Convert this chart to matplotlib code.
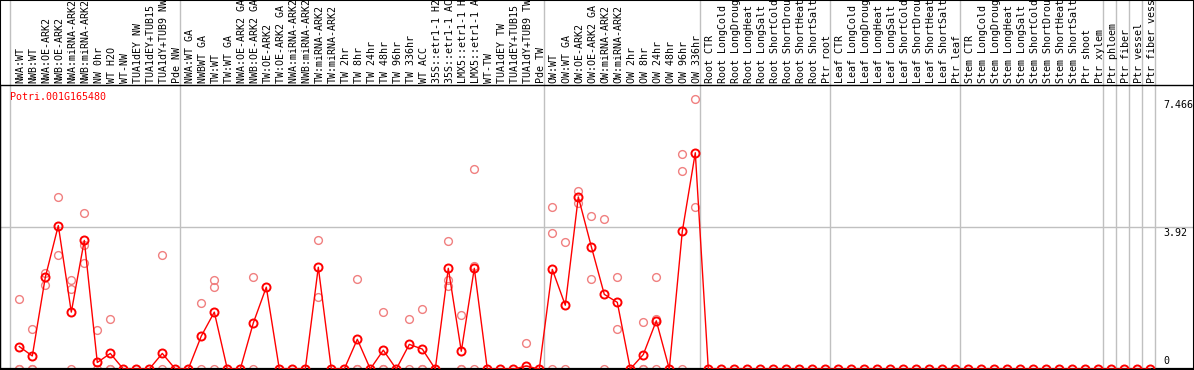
import matplotlib
matplotlib.use("Agg")
import matplotlib.pyplot as plt
from matplotlib.transforms import blended_transform_factory
from matplotlib.patches import Rectangle

# подписи образцов
labels = [
    "NWA:WT", "NWB:WT", "NWA:OE-ARK2", "NWB:OE-ARK2", "NWA:miRNA-ARK2",
    "NWB:miRNA-ARK2", "NW 0hr", "WT H2O", "WT-NW", "TUA1dEY NW",
    "TUA1dEY+TUB15 NW", "TUA1dY+TUB9 NW", "Pde NW",
    "NWA:WT GA", "NWBWT GA", "TW:WT", "TW:WT GA", "NWA:OE-ARK2 GA",
    "NWB:OE-ARK2 GA", "TW:OE-ARK2", "TW:OE-ARK2 GA", "NWA:miRNA-ARK2 GA",
    "NWB:miRNA-ARK2 GA", "TW:miRNA-ARK2", "TW:miRNA-ARK2", "TW 2hr", "TW 8hr",
    "TW 24hr", "TW 48hr", "TW 96hr", "TW 336hr", "WT ACC", "35S::etr1-1 H2O",
    "35S::etr1-1 ACC", "LMX5::etr1-1 H2O", "LMX5::etr1-1 ACC", "WT-TW",
    "TUA1dEY TW", "TUA1dEY+TUB15 TW", "TUA1dY+TUB9 TW", "Pde TW",
    "OW:WT", "OW:WT GA", "OW:OE-ARK2", "OW:OE-ARK2 GA", "OW:miRNA-ARK2",
    "OW:miRNA-ARK2", "OW 2hr", "OW 8hr", "OW 24hr", "OW 48hr", "OW 96hr",
    "OW 336hr",
    "Root CTR", "Root LongCold", "Root LongDrought", "Root LongHeat",
    "Root LongSalt", "Root ShortCold", "Root ShortDrought", "Root ShortHeat",
    "Root ShortSalt", "Ptr root",
    "Leaf CTR", "Leaf LongCold", "Leaf LongDrought", "Leaf LongHeat",
    "Leaf LongSalt", "Leaf ShortCold", "Leaf ShortDrought", "Leaf ShortHeat",
    "Leaf ShortSalt", "Ptr leaf",
    "Stem CTR", "Stem LongCold", "Stem LongDrought", "Stem LongHeat",
    "Stem LongSalt", "Stem ShortCold", "Stem ShortDrought", "Stem ShortHeat",
    "Stem ShortSalt", "Ptr shoot", "Ptr xylem",
    "Ptr phloem", "Ptr fiber", "Ptr vessel", "Ptr fiber vessel",
]

# размеры групп (вертикальные разделители)
group_sizes = [13, 28, 12, 10, 10, 11, 1, 1, 1, 1]

# средние значения
means = [
    0.62, 0.36, 2.53, 3.96, 1.57, 3.55, 0.18, 0.43, 0, 0, 0, 0.43, 0,
    0, 0.91, 1.57, 0, 0, 1.27, 2.26, 0, 0, 0, 2.81, 0, 0, 0.82, 0, 0.52,
    0, 0.68, 0.55, 0, 2.78, 0.49, 2.78, 0, 0, 0, 0.08, 0,
    2.75, 1.76, 4.75, 3.38, 2.06, 1.84, 0, 0.40, 1.33, 0, 3.80, 5.97,
] + [0] * 35

# повторности: индекс образца -> значения
reps = {
    0: [1.94, 0, 0], 1: [1.10, 0, 0], 2: [2.65, 2.33], 3: [4.75, 3.16],
    4: [2.45, 2.22, 0], 5: [4.31, 3.41, 2.92], 6: [1.07, 0], 7: [1.37, 0, 0],
    11: [3.16, 0], 14: [1.82, 0], 15: [2.45, 2.27, 0], 18: [2.53, 0],
    23: [3.57, 2.00], 26: [2.49, 0, 0], 28: [1.56, 0, 0], 30: [1.39, 0],
    31: [1.65, 0, 0], 33: [3.54, 2.45, 2.29], 34: [1.49, 0, 0],
    35: [5.52, 2.84, 0], 39: [0.72, 0], 41: [4.48, 3.76, 0], 42: [3.51, 0],
    43: [4.92, 4.59], 44: [4.23, 2.49], 45: [4.15, 0], 46: [2.55, 1.10],
    48: [1.29, 0, 0], 49: [2.55, 1.39, 0], 51: [5.93, 5.47, 0],
    52: [7.466, 4.48],
}

gene = "Potri.001G165480"
y_max = 7.466
y_mid = 3.92

W, H = 1194, 370
mono = "DejaVu Sans Mono"
fs = 7.2
grid_c = "#c0c0c0"

fig = plt.figure(figsize=(W / 100, H / 100), dpi=100)
ax = fig.add_axes([0, 1 / H, 1193.5 / W, 284 / H])
ax.set_xlim(-19.3 / 13, (1193.5 - 19.3) / 13)
ax.set_ylim(0, 2 * y_mid)
ax.set_xticks([])
ax.set_yticks([])
for s in ax.spines.values():
    s.set_color("black")
    s.set_linewidth(1.0)
ax.spines["bottom"].set_linewidth(1.6)

# рамка всей картинки
fig.patches.append(Rectangle((0, 0), 1, 1, transform=fig.transFigure,
                             fill=False, edgecolor="black", lw=1.5))

# разделители групп
seps = [-0.69]
pos = 0
for g in group_sizes:
    pos += g
    seps.append(pos - 1 + 0.38)
for s in seps:
    ax.axvline(s, ymin=0, ymax=1.4, color=grid_c, lw=1.0, clip_on=False, zorder=0)
ax.axhline(y_mid, color=grid_c, lw=1.0, zorder=0)

# повторности
rx, ry = [], []
for i, vals in reps.items():
    for v in vals:
        rx.append(i)
        ry.append(v)
ax.plot(rx, ry, "o", ms=5.6, mfc="none", mec="#f08080", mew=1.0, zorder=2)

# средние
x = list(range(len(means)))
ax.plot(x, means, "-", color="red", lw=1.0, zorder=3)
ax.plot(x, means, "o", ms=5.8, mfc="none", mec="red", mew=1.4, zorder=4)

# подписи образцов
tr = blended_transform_factory(ax.transData, ax.transAxes)
for i, lab in enumerate(labels):
    ax.text(i + 0.1, 1 + 2 / 284, lab, transform=tr, rotation=90,
            ha="center", va="bottom", fontsize=fs, family=mono, clip_on=False)

ax.text(10 / 1193.5, (369 - 97) / 284, gene, transform=ax.transAxes,
        color="red", ha="left", va="center", fontsize=fs, family=mono)

# подписи оси Y справа
tr2 = blended_transform_factory(ax.transAxes, ax.transData)
ax.text(1163 / 1193.5, y_max - 0.03, f"{y_max:g}", transform=tr2,
        ha="left", va="top", fontsize=fs, family=mono)
ax.text(1163 / 1193.5, y_mid - 0.03, f"{y_mid:g}", transform=tr2,
        ha="left", va="top", fontsize=fs, family=mono)
ax.text(1163 / 1193.5, 0.08, "0", transform=tr2,
        ha="left", va="bottom", fontsize=fs, family=mono)

fig.savefig("out.png", dpi=100)
